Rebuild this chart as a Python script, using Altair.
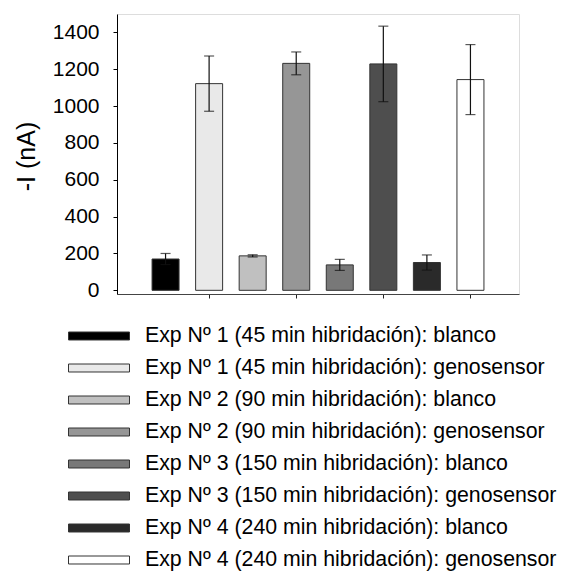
import altair as alt
import pandas as pd

labels = [
    "Exp Nº 1 (45 min hibridación): blanco",
    "Exp Nº 1 (45 min hibridación): genosensor",
    "Exp Nº 2 (90 min hibridación): blanco",
    "Exp Nº 2 (90 min hibridación): genosensor",
    "Exp Nº 3 (150 min hibridación): blanco",
    "Exp Nº 3 (150 min hibridación): genosensor",
    "Exp Nº 4 (240 min hibridación): blanco",
    "Exp Nº 4 (240 min hibridación): genosensor",
]
positions = [1, 2, 3, 4, 5, 6, 7, 8]
values = [170, 1122, 187, 1232, 138, 1229, 151, 1144]
errors = [30, 150, 6, 62, 30, 205, 41, 190]
colors = ["#000000", "#e9e9e9", "#c0c0c0", "#969696", "#787878", "#4e4e4e", "#2a2a2a", "#ffffff"]
y_ticks = [0, 200, 400, 600, 800, 1000, 1200, 1400]
x_ticks = [2, 4, 6, 8]

df = pd.DataFrame({"label": labels, "pos": positions, "value": values, "err": errors})
df["lo"] = df["value"] - df["err"]
df["hi"] = df["value"] + df["err"]

FONT = "Liberation Sans"

x_scale = alt.Scale(domain=[0, 9], nice=False, zero=False)
y_scale = alt.Scale(domain=[-20, 1500], nice=False, zero=False)

x_axis = alt.Axis(values=x_ticks, labels=False, title=None, tickSize=4, grid=False,
                  domainColor="#444444", tickColor="#222222")
y_axis = alt.Axis(values=y_ticks, format="d", labelOverlap=False, title="-I (nA)", grid=False,
                  tickSize=4, labelPadding=14,
                  labelFont=FONT, labelFontSize=21, labelColor="black",
                  titleFont=FONT, titleFontSize=25, titleFontWeight="normal", titleColor="black",
                  titleAngle=270, titleX=-91, titleY=142, titleAlign="center", titleBaseline="middle",
                  domainColor="black", tickColor="black")

bars = alt.Chart(df).mark_bar(size=27, stroke="#333333", strokeWidth=1).encode(
    x=alt.X("pos:Q", scale=x_scale, axis=x_axis),
    y=alt.Y("value:Q", scale=y_scale, axis=y_axis),
    y2=alt.Y2(datum=0),
    color=alt.Color(
        "label:N",
        scale=alt.Scale(domain=labels, range=colors),
        legend=alt.Legend(
            title=None, orient="none", legendX=-49, legendY=306,
            symbolType="M-1,-0.131L1,-0.131L1,0.131L-1,0.131Z", symbolSize=3721,
            symbolStrokeColor="#333333", symbolStrokeWidth=1, symbolOpacity=1,
            labelFont=FONT, labelFontSize=21.3, labelColor="black", labelOffset=15,
            labelLimit=0, clipHeight=32, rowPadding=0, padding=0,
        ),
    ),
)

ERR_COLOR = "#111111"
rules = alt.Chart(df).mark_rule(color=ERR_COLOR, strokeWidth=1.2).encode(
    x=alt.X("pos:Q", scale=x_scale, axis=x_axis),
    y=alt.Y("lo:Q", scale=y_scale, axis=y_axis),
    y2="hi:Q",
)
caps_hi = alt.Chart(df).mark_tick(color=ERR_COLOR, orient="horizontal", size=10, thickness=1.2).encode(
    x=alt.X("pos:Q", scale=x_scale, axis=x_axis),
    y=alt.Y("hi:Q", scale=y_scale, axis=y_axis),
)
caps_lo = alt.Chart(df).mark_tick(color=ERR_COLOR, orient="horizontal", size=10, thickness=1.2).encode(
    x=alt.X("pos:Q", scale=x_scale, axis=x_axis),
    y=alt.Y("lo:Q", scale=y_scale, axis=y_axis),
)

chart = alt.layer(bars, rules, caps_hi, caps_lo).properties(
    width=402, height=280,
    autosize=alt.AutoSizeParams(type="none"),
    padding={"left": 117, "top": 14, "right": 52, "bottom": 277},
).configure_view(stroke="#555555", strokeWidth=1.2).configure(background="white")

chart.save("out.html", embed_options={"renderer": "svg", "actions": False})
